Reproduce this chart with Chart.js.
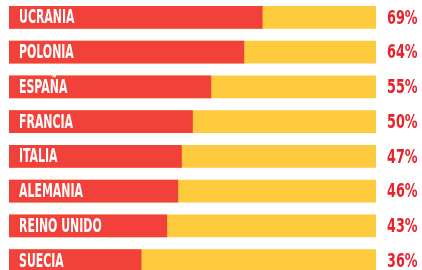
<!DOCTYPE html>
<html lang="es">
<head>
  <meta charset="UTF-8" />
  <title>Porcentaje por país</title>
  <script src="https://cdn.jsdelivr.net/npm/chart.js"></script>
  <style>
    html, body {
      margin: 0;
      padding: 0;
      background: #ffffff;
      overflow: hidden;
    }
    .wrap {
      position: relative;
      width: 422px;
      height: 278px;
    }
  </style>
</head>
<body>

<div class="wrap">
  <canvas id="barChart"></canvas>
</div>

<script>
  const paises = ["UCRANIA", "POLONIA", "ESPAÑA", "FRANCIA", "ITALIA", "ALEMANIA", "REINO UNIDO", "SUECIA"];
  const porcentajes = [69, 64, 55, 50, 47, 46, 43, 36];
  const fondo = [100, 100, 100, 100, 100, 100, 100, 100];

  const ROJO = "#f2403a";
  const AMARILLO = "#fecb3f";
  const TEXTO_ROJO = "#e8222b";

  // dibuja los nombres dentro de la barra y el % a la derecha
  const etiquetas = {
    id: "etiquetas",
    afterDatasetsDraw(chart) {
      const ctx = chart.ctx;
      const meta = chart.getDatasetMeta(0);
      const area = chart.chartArea;

      meta.data.forEach((bar, i) => {
        ctx.save();
        ctx.fillStyle = "#ffffff";
        ctx.textBaseline = "middle";
        ctx.textAlign = "left";
        ctx.font = 'bold 19px "DejaVu Sans Condensed", "Liberation Sans Narrow", sans-serif';
        ctx.translate(bar.base + 10, bar.y + 1);
        ctx.scale(0.64, 1);
        ctx.fillText(paises[i], 0, 0);
        ctx.restore();

        ctx.save();
        ctx.fillStyle = TEXTO_ROJO;
        ctx.textBaseline = "middle";
        ctx.textAlign = "left";
        ctx.font = 'bold 20px "DejaVu Sans Condensed", "Liberation Sans Narrow", sans-serif';
        ctx.translate(area.right + 11, bar.y + 1);
        ctx.scale(0.71, 1);
        ctx.fillText(porcentajes[i] + "%", 0, 0);
        ctx.restore();
      });
    }
  };

  new Chart(document.getElementById("barChart"), {
    type: "bar",
    data: {
      labels: paises,
      datasets: [
        {
          data: porcentajes,
          backgroundColor: ROJO,
          barThickness: 22,
          borderWidth: 0
        },
        {
          data: fondo,
          backgroundColor: AMARILLO,
          barThickness: 22,
          borderWidth: 0
        }
      ]
    },
    options: {
      indexAxis: "y",
      responsive: true,
      maintainAspectRatio: false,
      animation: false,
      layout: { padding: { left: 9, right: 46, top: 0, bottom: 0 } },
      plugins: {
        legend: { display: false },
        tooltip: { enabled: false }
      },
      scales: {
        x: { display: false, min: 0, max: 100, stacked: false },
        y: { display: false, stacked: true }
      }
    },
    plugins: [etiquetas]
  });
</script>

</body>
</html>
